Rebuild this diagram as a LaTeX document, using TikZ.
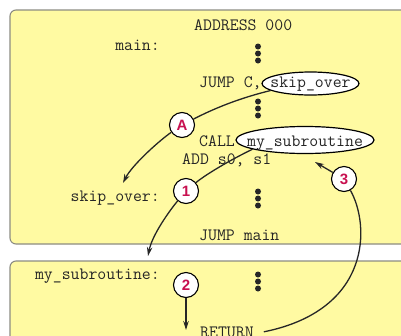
\documentclass[tikz,border=0pt]{standalone}
\usepackage{fontspec}
\usetikzlibrary{arrows.meta,shapes.geometric}
\newfontfamily\sansfam{Liberation Sans}
\newcommand{\codefont}{\fontsize{17.3}{20}\ttfamily\addfontfeatures{FakeBold=0.9}}
\definecolor{boxfill}{RGB}{255,250,162}
\definecolor{boxline}{RGB}{140,140,130}
\definecolor{labred}{RGB}{200,16,80}
\tikzset{
  panel/.style={draw=boxline, line width=1.1pt, fill=boxfill, rounded corners=6pt},
  code/.style={inner sep=0pt, text=black!85, font=\codefont},
  oval/.style={ellipse, draw=black, line width=1.2pt, fill=white, inner sep=0pt},
  badge/.style={circle, draw=black, line width=1.1pt, fill=white, inner sep=0pt,
    minimum size=25pt, text=labred, font=\sansfam\bfseries\fontsize{15}{17}\selectfont},
  conn/.style={line width=1.3pt, draw=black!85},
  tip/.style={-{Stealth[length=9pt,width=5.5pt]}},
  dotmark/.style={fill=black!85, draw=none}
}
\begin{document}
\begin{tikzpicture}[x=1pt,y=-1pt]
\useasboundingbox (0,0) rectangle (401,335);
\clip (0,0) rectangle (401,335);
% panels
\draw[panel] (10,10) rectangle (430,244);
\draw[panel] (10,261) rectangle (430,380);
% vertical dots
\foreach \y in {46.5,101.5,191.5,274.5}{
  \foreach \k in {0,7,14}{
    \fill[dotmark] (258,\y+\k) circle (3);
  }
}
% code text
\node[code, anchor=base west] (addr) at (194,30) {ADDRESS 000};
\node[code, anchor=base east] (main) at (160,50) {main:};
\node[code, anchor=base west] (jumpc) at (199,87) {JUMP C,};
\node[code, anchor=base west] (call) at (199,146) {CALL};
\node[code, anchor=base west] (add) at (182,164) {ADD s0, s1};
\node[code, anchor=base east] (skiplab) at (160,201) {skip\_over:};
\node[code, anchor=base west] (jumpm) at (199,240) {JUMP main};
\node[code, anchor=base east] (sublab) at (160,279) {my\_subroutine:};
\node[code, anchor=base west] (ret) at (200,337) {RETURN};
% ovals
\node[oval, minimum width=97pt, minimum height=23pt] (skipE) at (310.5,83.5) {};
\node[code, anchor=base] (skipT) at (310.5,87) {skip\_over};
\node[oval, minimum width=138pt, minimum height=27pt] (subE) at (305,140) {};
\node[code, anchor=base] (subT) at (305,146) {my\_subroutine};
% badges
\node[badge] (cA) at (182,125) {A};
\node[badge] (c1) at (186,191) {1};
\node[badge] (c2) at (186,285) {2};
\node[badge] (c3) at (344,179) {3};
% free ends
\coordinate (tA) at (123,183);
\coordinate (t1) at (148,256);
\coordinate (t2) at (186,330);
\coordinate (t3) at (315,162);
% connectors
\draw[conn] (skipE.190) .. controls (240,98) and (215,108) .. (cA);
\draw[conn, tip] (cA) .. controls (160,140) and (132,165) .. (tA);
\draw[conn] (subE.190) .. controls (230,160) and (205,175) .. (c1);
\draw[conn, tip] (c1) .. controls (170,210) and (152,235) .. (t1);
\draw[conn, tip] (c2) -- (t2);
\draw[conn] ([xshift=10pt]ret.east) .. controls (372,310) and (370,225) .. (c3);
\draw[conn, tip] (c3) -- (t3);
\end{tikzpicture}
\end{document}
